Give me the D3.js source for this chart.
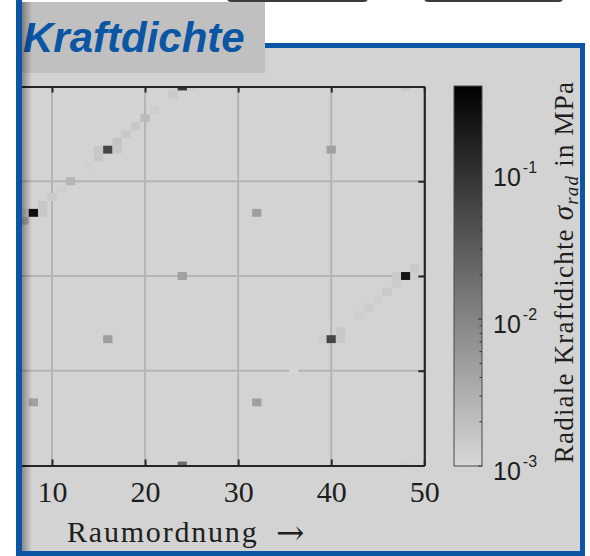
<!DOCTYPE html>
<html>
<head>
<meta charset="utf-8">
<script src="https://cdn.jsdelivr.net/npm/d3@7"></script>
<style>
  html, body { margin: 0; padding: 0; background: #ffffff; }
  svg { display: block; }
</style>
</head>
<body>
<svg id="chart" width="590" height="556"></svg>
<script>
// Nonzero cells of the 2D spectrum of the radial force density
const spatialOrder = [7, 7, 8, 9, 9, 10, 11, 12, 14, 15, 15, 16, 17, 17, 18, 19, 20, 21, 23, 24, 25,
                      36, 39, 40, 41, 41, 43, 44, 45, 46, 47, 47, 48, 49, 49,
                      32, 40, 24, 16, 8, 32, 31, 48, 48, 24];
const timeOrder    = [7, 8, 8, 8, 9, 10, 11, 12, 14, 15, 16, 16, 16, 17, 18, 19, 20, 21, 23, 24, 24,
                      -12, -8, -8, -8, -7, -5, -4, -3, -2, -1, 0, 0, 0, 1,
                      8, 16, 0, -8, -16, -16, -17, 24, -24, -24];
const forceDensity = [0.0035, 0.0017, 0.25, 0.0016, 0.0016, 0.0015, 0.0013, 0.0026, 0.0012, 0.0016, 0.0016, 0.058, 0.0016, 0.0017, 0.0015, 0.0016, 0.0023, 0.0013, 0.0015, 0.09, 0.0013,
                      0.0011, 0.0013, 0.058, 0.0015, 0.0016, 0.0013, 0.0014, 0.0013, 0.0015, 0.0014, 0.0015, 0.22, 0.0013, 0.0015,
                      0.0048, 0.0045, 0.0045, 0.0048, 0.0045, 0.0048, 0.0011, 0.0016, 0.0013, 0.02];

const xTicks = [10, 20, 30, 40, 50];
const yTicks = [-24, -12, 0, 12, 24];
const colorLimits = [1e-3, 0.385];
const colorbarTicks = [1e-3, 1e-2, 1e-1];
const colorbarExponents = ["-3", "-2", "-1"];
const titleText = "Kraftdichte";
const xLabelText = "Raumordnung";

const svg = d3.select("#chart");
const defs = svg.append("defs");

const BLUE = "#0a56a5";
const PANEL = "#d3d3d3";
const SERIF = "'Liberation Serif', 'Times New Roman', serif";

// ---- surrounding slide elements ----
svg.append("rect").attr("width", 590).attr("height", 556).attr("fill", "#ffffff");
[[228, 367], [425, 562]].forEach(([a, b]) => {
  svg.append("rect").attr("x", a).attr("y", -40).attr("width", b - a).attr("height", 41)
    .attr("rx", 3).attr("fill", "#ffffff").attr("stroke", "#3c3c3c").attr("stroke-width", 2);
});

// panel
svg.append("rect").attr("x", 22).attr("y", 48).attr("width", 558).attr("height", 503).attr("fill", PANEL);
// title tab
svg.append("rect").attr("x", 22).attr("y", 2).attr("width", 243).attr("height", 71).attr("fill", "#c0c0c0");
svg.append("text").attr("x", 23).attr("y", 52)
  .attr("font-family", "'Liberation Sans', Arial, sans-serif")
  .attr("font-weight", "bold").attr("font-style", "italic")
  .attr("font-size", 42).attr("fill", BLUE).text(titleText);

// ---- chart ----
const x = d3.scaleLinear().domain([0, 50]).range([-41.1, 424.3]);
const y = d3.scaleLinear().domain([-24, 24]).range([465.5, 86.5]);
const color = d3.scaleLog().domain(colorLimits).range(["#d8d8d8", "#000000"]).clamp(true);

defs.append("clipPath").attr("id", "plotClip")
  .append("rect").attr("x", 22).attr("y", y(24)).attr("width", x(50) - 22).attr("height", y(-24) - y(24));
defs.append("clipPath").attr("id", "panelClip")
  .append("rect").attr("x", 22).attr("y", 48).attr("width", 558).attr("height", 503);

const plot = svg.append("g").attr("clip-path", "url(#panelClip)");

// grid below the cells
const grid = plot.append("g").attr("clip-path", "url(#plotClip)");
grid.selectAll("line.vx").data(xTicks.filter(d => d < 50)).join("line")
  .attr("x1", d => x(d)).attr("x2", d => x(d)).attr("y1", y(24)).attr("y2", y(-24))
  .attr("stroke", "#b4b4b4").attr("stroke-width", 2);
grid.selectAll("line.hy").data(yTicks.filter(d => Math.abs(d) < 24)).join("line")
  .attr("x1", x(0)).attr("x2", x(50)).attr("y1", d => y(d)).attr("y2", d => y(d))
  .attr("stroke", "#b4b4b4").attr("stroke-width", 2);

// spectrum cells
const cells = spatialOrder.map((s, i) => ({ s, t: timeOrder[i], v: forceDensity[i] }));
const cw = x(1) - x(0), ch = y(0) - y(1);
plot.append("g").attr("clip-path", "url(#plotClip)")
  .selectAll("rect").data(cells).join("rect")
  .attr("x", d => x(d.s - 0.5)).attr("y", d => y(d.t + 0.5))
  .attr("width", cw).attr("height", ch)
  .attr("fill", d => color(d.v));

// axes
const axisColor = "#262626";
const gBottom = plot.append("g").attr("transform", `translate(0,${y(-24)})`)
  .call(d3.axisBottom(x).tickValues(xTicks).tickSize(-6).tickPadding(15).tickSizeOuter(0));
const gTop = plot.append("g").attr("transform", `translate(0,${y(24)})`)
  .call(d3.axisTop(x).tickValues(xTicks).tickSize(-6).tickFormat("").tickSizeOuter(0));
const gRight = plot.append("g").attr("transform", `translate(${x(50)},0)`)
  .call(d3.axisRight(y).tickValues(yTicks).tickSize(-6).tickFormat("").tickSizeOuter(0));
[gBottom, gTop, gRight].forEach(g => {
  g.select(".domain").attr("stroke", axisColor).attr("stroke-width", 2.2);
  g.selectAll(".tick line").attr("stroke", axisColor).attr("stroke-width", 2);
});
gBottom.selectAll(".tick text")
  .attr("font-family", SERIF).attr("font-size", 30).attr("fill", "#1e1e1e");

// axis label with a math-style arrow
svg.append("text").attr("x", 67).attr("y", 542)
  .attr("font-family", SERIF).attr("font-size", 30).attr("fill", "#1e1e1e")
  .attr("letter-spacing", 1.8)
  .text(xLabelText);
svg.append("text").attr("x", 276).attr("y", 544)
  .attr("font-family", "'DejaVu Serif', serif").attr("font-size", 34).attr("fill", "#1e1e1e")
  .text("\u2192");

// ---- colorbar ----
const cb = d3.scaleLog().domain(colorLimits).range([466, 86]);
const cbX = 454, cbW = 28;
const grad = defs.append("linearGradient").attr("id", "cbGrad")
  .attr("x1", 0).attr("y1", 1).attr("x2", 0).attr("y2", 0);
d3.range(0, 1.0001, 0.1).forEach(f => {
  const v = cb.invert(466 - f * 380);
  grad.append("stop").attr("offset", f).attr("stop-color", color(v));
});
svg.append("rect").attr("x", cbX).attr("y", 86).attr("width", cbW).attr("height", 380)
  .attr("fill", "url(#cbGrad)").attr("stroke", "#4a4a4a").attr("stroke-width", 1);

const minorTicks = [];
[-3, -2, -1].forEach(e => d3.range(1, 10).forEach(m => {
  const v = m * Math.pow(10, e);
  if (v >= colorLimits[0] && v <= colorLimits[1]) minorTicks.push({ v, major: m === 1 });
}));
svg.append("g").selectAll("line").data(minorTicks).join("line")
  .attr("x1", cbX + cbW).attr("x2", d => cbX + cbW - (d.major ? 4 : 2.5))
  .attr("y1", d => cb(d.v)).attr("y2", d => cb(d.v))
  .attr("stroke", "#333").attr("stroke-width", 1);

const cbLabels = svg.append("g").attr("font-family", "'Liberation Sans', Arial, sans-serif").attr("fill", "#1e1e1e");
colorbarTicks.forEach((v, i) => {
  const t = cbLabels.append("text").attr("x", 493).attr("y", cb(v) + 14).attr("font-size", 25);
  t.append("tspan").text("10");
  t.append("tspan").attr("font-size", 16).attr("dx", 2).attr("dy", -13).text(colorbarExponents[i]);
});

const cbTitle = svg.append("text")
  .attr("transform", "translate(573,272) rotate(-90)")
  .attr("text-anchor", "middle")
  .attr("font-family", SERIF)
  .attr("font-size", 27).attr("fill", "#1e1e1e")
  .attr("letter-spacing", 1.2);
cbTitle.append("tspan").text("Radiale Kraftdichte ");
cbTitle.append("tspan").attr("font-style", "italic").attr("font-size", 29).text("\u03C3");
cbTitle.append("tspan").attr("font-style", "italic").attr("font-size", 19).attr("dy", 5).text("rad");
cbTitle.append("tspan").attr("dy", -5).text(" in MPa");

// ---- blue frame and inner shadow ----
const shade = defs.append("linearGradient").attr("id", "shade").attr("x1", 0).attr("x2", 1).attr("y1", 0).attr("y2", 0);
shade.append("stop").attr("offset", 0).attr("stop-color", "#000").attr("stop-opacity", 0.35);
shade.append("stop").attr("offset", 1).attr("stop-color", "#000").attr("stop-opacity", 0);
svg.append("rect").attr("x", 22).attr("y", 2).attr("width", 10).attr("height", 549).attr("fill", "url(#shade)");

svg.append("rect").attr("x", 16).attr("y", 0).attr("width", 6).attr("height", 556).attr("fill", BLUE);
svg.append("rect").attr("x", 265).attr("y", 43).attr("width", 320).attr("height", 5).attr("fill", BLUE);
svg.append("rect").attr("x", 580).attr("y", 43).attr("width", 5).attr("height", 513).attr("fill", BLUE);
svg.append("rect").attr("x", 16).attr("y", 551).attr("width", 569).attr("height", 5).attr("fill", BLUE);
</script>
</body>
</html>
